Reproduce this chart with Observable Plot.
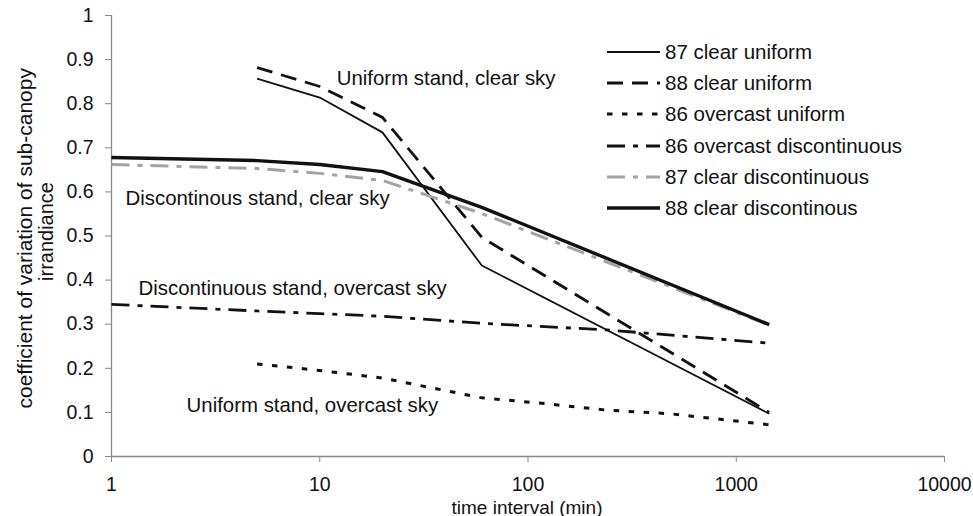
<!DOCTYPE html>
<html>
<head>
<meta charset="utf-8">
<script src="https://cdn.jsdelivr.net/npm/d3@7"></script>
<script src="https://cdn.jsdelivr.net/npm/@observablehq/plot@0.6"></script>
<style>
  html, body { margin: 0; padding: 0; background: #fff; }
  #wrap { position: relative; width: 973px; height: 516px; font-family: "Liberation Sans", Arial, sans-serif; }
  #legend { position: absolute; left: 0; top: 0; pointer-events: none; }
</style>
</head>
<body>
<div id="wrap"></div>
<script>
// ---- Data ----
const seriesNames = ["87 clear uniform", "88 clear uniform", "86 overcast uniform",
                     "86 overcast discontinuous", "87 clear discontinuous", "88 clear discontinous"];

const t87ClearUniform = [5, 10, 20, 60, 1440];
const v87ClearUniform = [0.857, 0.814, 0.735, 0.433, 0.097];

const t88ClearUniform = [5, 10, 20, 60, 1440];
const v88ClearUniform = [0.882, 0.839, 0.769, 0.497, 0.100];

const t86OvercastUniform = [5, 10, 20, 60, 120, 240, 480, 1440];
const v86OvercastUniform = [0.210, 0.195, 0.178, 0.133, 0.120, 0.105, 0.097, 0.072];

const t86OvercastDisc = [1, 5, 10, 20, 60, 240, 1440];
const v86OvercastDisc = [0.345, 0.330, 0.324, 0.318, 0.302, 0.287, 0.257];

const t87ClearDisc = [1, 5, 10, 20, 60, 1440];
const v87ClearDisc = [0.662, 0.653, 0.642, 0.626, 0.551, 0.298];

const t88ClearDisc = [1, 5, 10, 20, 60, 1440];
const v88ClearDisc = [0.678, 0.671, 0.662, 0.646, 0.565, 0.299];

const xTicks = [1, 10, 100, 1000, 10000];
const yTicks = [0, 0.1, 0.2, 0.3, 0.4, 0.5, 0.6, 0.7, 0.8, 0.9, 1];

const annoText = ["Uniform stand, clear sky", "Discontinous stand, clear sky",
                  "Discontinuous stand, overcast sky", "Uniform stand, overcast sky"];
const annoT = [12.07, 1.168, 1.348, 2.294];
const annoV = [0.858, 0.584, 0.380, 0.115];

const xLabel = "time interval (min)";
const yLabel1 = "coefficient of variation of sub-canopy";
const yLabel2 = "irrandiance";

// ---- Styles ----
const styles = [
  {stroke: "#111", strokeWidth: 1.8, dash: null},
  {stroke: "#111", strokeWidth: 2.8, dash: "16,9"},
  {stroke: "#111", strokeWidth: 3, dash: "5.5,9.5"},
  {stroke: "#111", strokeWidth: 2.8, dash: "18,8,5,8"},
  {stroke: "#a3a3a3", strokeWidth: 3, dash: "18,8,5,8"},
  {stroke: "#111", strokeWidth: 3.4, dash: null}
];

const tArr = [t87ClearUniform, t88ClearUniform, t86OvercastUniform, t86OvercastDisc, t87ClearDisc, t88ClearDisc];
const vArr = [v87ClearUniform, v88ClearUniform, v86OvercastUniform, v86OvercastDisc, v87ClearDisc, v88ClearDisc];

const seriesData = tArr.map((ts, i) => ts.map((t, j) => ({t, v: vArr[i][j], s: seriesNames[i]})));
const annos = annoText.map((text, i) => ({text, t: annoT[i], v: annoV[i]}));

const W = 973, H = 516;
const mL = 111, mR = 29, mT = 15, mB = 60;
const font = "Liberation Sans, Arial, sans-serif";

const lineMarks = seriesData.map((d, i) => Plot.line(d, {
  x: "t", y: "v",
  stroke: styles[i].stroke,
  strokeWidth: styles[i].strokeWidth,
  strokeDasharray: styles[i].dash || undefined,
  strokeLinejoin: "miter",
  strokeLinecap: "butt"
}));

const chart = Plot.plot({
  width: W, height: H,
  marginLeft: mL, marginRight: mR, marginTop: mT, marginBottom: mB,
  style: {fontFamily: font, fontSize: "19.5px", color: "#111", background: "#fff", overflow: "visible"},
  x: {type: "log", domain: [1, 10000]},
  y: {domain: [0, 1]},
  marks: [
    Plot.ruleY([0], {stroke: "#8a8a8a", strokeWidth: 1.3}),
    Plot.ruleX([1], {stroke: "#8a8a8a", strokeWidth: 1.3}),
    Plot.axisX({ticks: xTicks, tickFormat: d => String(d), tickSize: 6, tickPadding: 15,
                stroke: "#8a8a8a", fill: "#111", fontSize: 19.5, label: null}),
    Plot.axisY({ticks: yTicks, tickFormat: d => String(+d.toFixed(1)), tickSize: 6, tickPadding: 12,
                stroke: "#8a8a8a", fill: "#111", fontSize: 19.5, label: null}),
    Plot.text([xLabel], {frameAnchor: "bottom", dx: -1, dy: 51, text: d => d, fontSize: 19,
                         fill: "#111", lineAnchor: "middle", textAnchor: "middle"}),
    Plot.text([yLabel1], {frameAnchor: "left", rotate: -90, dx: -86, dy: 172.5, text: d => d,
                          fontSize: 21, fill: "#111", textAnchor: "start", lineAnchor: "middle",
                          letterSpacing: "1.4px"}),
    Plot.text([yLabel2], {frameAnchor: "left", rotate: -90, dx: -65, dy: -4.5, text: d => d,
                          fontSize: 20, fill: "#111", textAnchor: "middle", lineAnchor: "middle"}),
    ...lineMarks,
    Plot.text(annos, {x: "t", y: "v", text: "text", textAnchor: "start", lineAnchor: "middle",
                      fontSize: 20.4, fill: "#111"})
  ]
});

const wrap = document.getElementById("wrap");
wrap.appendChild(chart);

// ---- Legend (overlay) ----
const ns = "http://www.w3.org/2000/svg";
const leg = document.createElementNS(ns, "svg");
leg.setAttribute("id", "legend");
leg.setAttribute("width", W);
leg.setAttribute("height", H);
const rowYs = [52, 83, 114, 146, 177, 208];
seriesNames.forEach((name, i) => {
  const y = rowYs[i];
  const ln = document.createElementNS(ns, "line");
  ln.setAttribute("x1", 607); ln.setAttribute("x2", 660);
  ln.setAttribute("y1", y); ln.setAttribute("y2", y);
  ln.setAttribute("stroke", styles[i].stroke);
  ln.setAttribute("stroke-width", styles[i].strokeWidth);
  if (styles[i].dash) ln.setAttribute("stroke-dasharray", styles[i].dash);
  leg.appendChild(ln);
  const tx = document.createElementNS(ns, "text");
  tx.setAttribute("x", 665); tx.setAttribute("y", y);
  tx.setAttribute("dy", "0.35em");
  tx.setAttribute("font-size", "20.5px");
  tx.setAttribute("font-family", font);
  tx.setAttribute("fill", "#111");
  tx.textContent = name;
  leg.appendChild(tx);
});
wrap.appendChild(leg);
</script>
</body>
</html>
